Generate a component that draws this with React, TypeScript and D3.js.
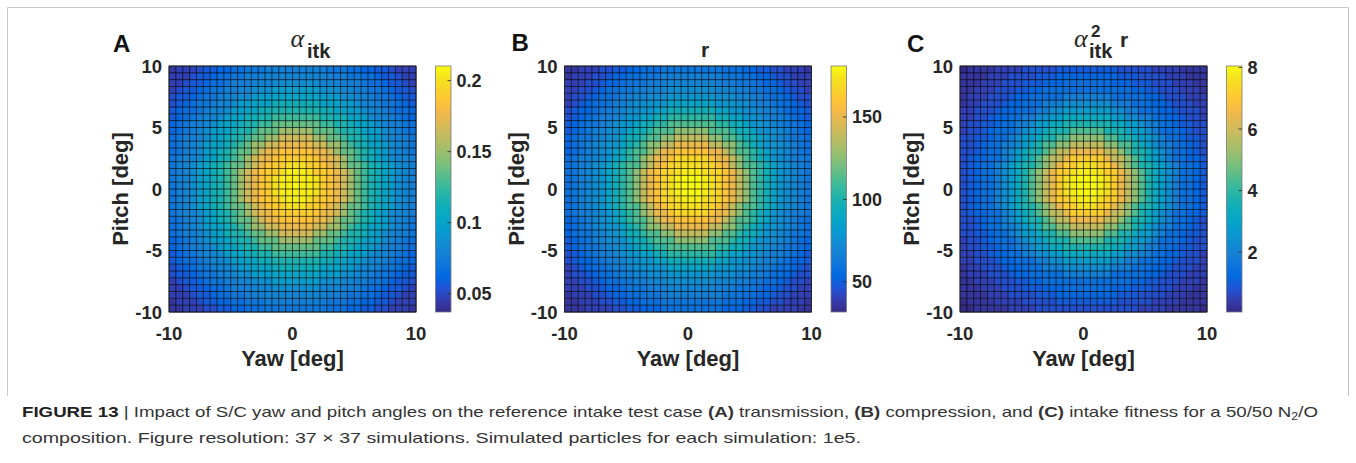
import React from "react";
import * as d3 from "d3";

// Simulated yaw / pitch angles (37 x 37 simulations), degrees
const yawDeg = [-10, -9.444, -8.889, -8.333, -7.778, -7.222, -6.667, -6.111, -5.556, -5, -4.444, -3.889, -3.333, -2.778, -2.222, -1.667, -1.111, -0.556, 0, 0.556, 1.111, 1.667, 2.222, 2.778, 3.333, 3.889, 4.444, 5, 5.556, 6.111, 6.667, 7.222, 7.778, 8.333, 8.889, 9.444, 10];
const pitchDeg = yawDeg.slice();

const axisTicks = [-10, -5, 0, 5, 10];

// Colour limits of each panel
const alphaRange = [0.0371, 0.2103];
const rRange = [31.8, 180.9];
const fitRange = [0.05, 8.05];

const alphaTicks = [0.05, 0.1, 0.15, 0.2];
const alphaTickLabels = ["0.05", "0.1", "0.15", "0.2"];
const rTicks = [50, 100, 150];
const rTickLabels = ["50", "100", "150"];
const fitTicks = [2, 4, 6, 8];
const fitTickLabels = ["2", "4", "6", "8"];

// Visible pcolor cells. One string per row, top row (pitch 9.44..10) first.
// Each character is a level 0..35 (base-36 digit) across the panel's colour limits.
const alphaRows = [
  "122234455667778888888887776655443222",
  "222344566778889999999998887766544322",
  "223445667888999aaaaaaa99988876654432",
  "234456778899aaacccccccaaa99887765443",
  "3445677899aacccdddddddcccaa998776544",
  "345677899accdddfffffffdddcca99877654",
  "45667899accddffgggggggffddcca9987665",
  "4567899acddffggiiiiiiiggffddca998765",
  "567889acddfggiikkkkkkkiiggfddca98876",
  "56789accdfggikkknnnnnkkkiggfdcca9876",
  "67889acdfggikknnqqqqqnnkkiggfdca9887",
  "6789acddfgiknnqqsssssqqnnkigfddca987",
  "6789acdfgikknqssuuuuussqnkkigfdca987",
  "7899acdfgiknqssuvvvvvussqnkigfdca998",
  "789acdfgikknqsuvvxxxvvusqnkkigfdca98",
  "789acdfgiknqsuvvxyyyxvvusqnkigfdca98",
  "789acdfgiknqsuvxyyyyyxvusqnkigfdca98",
  "789acdfgiknqsuvxyyzyyxvusqnkigfdca98",
  "789acdfgiknqsuvxyyyyyxvusqnkigfdca98",
  "789acdfgiknqsuvvxyyyxvvusqnkigfdca98",
  "789acdfgikknqsuvvxxxvvusqnkkigfdca98",
  "7899acdfgiknqssuvvvvvussqnkigfdca998",
  "6789acdfgikknqssuuuuussqnkkigfdca987",
  "6789acddfgiknnqqsssssqqnnkigfddca987",
  "67889acdfggikknnqqqqqnnkkiggfdca9887",
  "56789accdfggikkknnnnnkkkiggfdcca9876",
  "567889acddfggiikkkkkkkiiggfddca98876",
  "4567899acddffggiiiiiiiggffddca998765",
  "45667899accddffgggggggffddcca9987665",
  "345677899accdddfffffffdddcca99877654",
  "3445677899aacccdddddddcccaa998776544",
  "234456778899aaacccccccaaa99887765443",
  "223445667888999aaaaaaa99988876654432",
  "222344566778889999999998887766544322",
  "122234455667778888888887776655443222",
  "112223344556667777777776665544332221",
];

const rRows = [
  "112223344556667777777776665544332221",
  "122233455667778888888887776655433222",
  "222334556777888999999988877765543322",
  "223345667788999aaaaaaa99988776654332",
  "233456678899aaabbbbbbbaaa99887665433",
  "2345667889aabbbdddddddbbbaa988766543",
  "345567889aabbddfffffffddbbaa98876554",
  "34567889abbddffhhhhhhhffddbba9887654",
  "4567789abbdffhhjjjjjjjhhffdbba987765",
  "456789aabdffhjjjmmmmmjjjhffdbaa98765",
  "567789abdffhjjmmpppppmmjjhffdba98776",
  "56789abbdfhjmmppsssssppmmjhfdbba9876",
  "56789abdfhjjmpssuuuuusspmjjhfdba9876",
  "67889abdfhjmpssuwwwwwusspmjhfdba9887",
  "6789abdfhjjmpsuwwxxxwwuspmjjhfdba987",
  "6789abdfhjmpsuwwxyyyxwwuspmjhfdba987",
  "6789abdfhjmpsuwxyzzzyxwuspmjhfdba987",
  "6789abdfhjmpsuwxyzzzyxwuspmjhfdba987",
  "6789abdfhjmpsuwxyzzzyxwuspmjhfdba987",
  "6789abdfhjmpsuwwxyyyxwwuspmjhfdba987",
  "6789abdfhjjmpsuwwxxxwwuspmjjhfdba987",
  "67889abdfhjmpssuwwwwwusspmjhfdba9887",
  "56789abdfhjjmpssuuuuusspmjjhfdba9876",
  "56789abbdfhjmmppsssssppmmjhfdbba9876",
  "567789abdffhjjmmpppppmmjjhffdba98776",
  "456789aabdffhjjjmmmmmjjjhffdbaa98765",
  "4567789abbdffhhjjjjjjjhhffdbba987765",
  "34567889abbddffhhhhhhhffddbba9887654",
  "345567889aabbddfffffffddbbaa98876554",
  "2345667889aabbbdddddddbbbaa988766543",
  "233456678899aaabbbbbbbaaa99887665433",
  "223345667788999aaaaaaa99988776654332",
  "222334556777888999999988877765543322",
  "122233455667778888888887776655433222",
  "112223344556667777777776665544332221",
  "111222233445556666666665554433222211",
];

const fitRows = [
  "011112222333334444444443333322221111",
  "111122233334445555555554443333222111",
  "111222333444555666666655544433322211",
  "112223334455666666666666655443332221",
  "122233345566666888888866666554333222",
  "122333455666888aaaaaaa88866655433322",
  "2233345566688aacccccccaa886665543332",
  "22334556688aacceeeeeeeccaa8866554332",
  "2334456688acceegggggggeecca886654433",
  "233456668accegggjjjjjgggecca86665433",
  "33445668acceggjjmmmmmjjggecca8665443",
  "33456688acegjjmmpppppmmjjgeca8866543",
  "3345668aceggjmppsssssppmjggeca866543",
  "3455668acegjmppsvvvvvsppmjgeca866554",
  "345668aceggjmpsvvxxxvvspmjggeca86654",
  "345668acegjmpsvvxyyyxvvspmjgeca86654",
  "345668acegjmpsvxyzzzyxvspmjgeca86654",
  "345668acegjmpsvxyzzzyxvspmjgeca86654",
  "345668acegjmpsvxyzzzyxvspmjgeca86654",
  "345668acegjmpsvvxyyyxvvspmjgeca86654",
  "345668aceggjmpsvvxxxvvspmjggeca86654",
  "3455668acegjmppsvvvvvsppmjgeca866554",
  "3345668aceggjmppsssssppmjggeca866543",
  "33456688acegjjmmpppppmmjjgeca8866543",
  "33445668acceggjjmmmmmjjggecca8665443",
  "233456668accegggjjjjjgggecca86665433",
  "2334456688acceegggggggeecca886654433",
  "22334556688aacceeeeeeeccaa8866554332",
  "2233345566688aacccccccaa886665543332",
  "122333455666888aaaaaaa88866655433322",
  "122233345566666888888866666554333222",
  "112223334455666666666666655443332221",
  "111222333444555666666655544433322211",
  "111122233334445555555554443333222111",
  "011112222333334444444443333322221111",
  "001111122223333333333333332222111110",
];

// MATLAB parula colormap anchors
const parulaAnchors = [
  "#352a87", "#353dad", "#2053d4", "#0268e1", "#0d75dc", "#1481d6", "#108ed2", "#079ccf",
  "#06a7c6", "#0faeb9", "#25b5a9", "#42bb98", "#65be86", "#87bf77", "#a5be6b", "#c0bc60",
  "#d9ba56", "#f1b94a", "#ffc337", "#fad32a", "#f5e41d", "#f9fb0e",
];

const SANS = "'Liberation Sans', Arial, Helvetica, sans-serif";
const SERIF = "'Liberation Serif', 'Times New Roman', serif";
const INK = "#262626";

const PW = 247;
const PH = 246;
const TOP = 66;
const CB_OFF = 266.5;
const CB_W = 15.5;

function decodeRows(rows: string[], range: number[]): number[][] {
  // returns values indexed [i][j] with i = 0 at pitch -10 (bottom)
  const n = rows.length;
  const out: number[][] = [];
  for (let i = 0; i < n; i++) {
    const s = rows[n - 1 - i];
    const row: number[] = [];
    for (let j = 0; j < s.length; j++) {
      const code = parseInt(s[j], 36);
      row.push(range[0] + (code / 35) * (range[1] - range[0]));
    }
    out.push(row);
  }
  return out;
}

export default function App() {
  const parula = d3.piecewise(d3.interpolateRgb, parulaAnchors);

  const panels = [
    { key: "A", left: 169, rows: alphaRows, range: alphaRange, ticks: alphaTicks, labels: alphaTickLabels, letterX: 113, letterY: 52 },
    { key: "B", left: 564.5, rows: rRows, range: rRange, ticks: rTicks, labels: rTickLabels, letterX: 511.5, letterY: 51 },
    { key: "C", left: 960, rows: fitRows, range: fitRange, ticks: fitTicks, labels: fitTickLabels, letterX: 907, letterY: 52 },
  ];

  const gradStops = parulaAnchors.map((c, k) => (
    <stop key={k} offset={`${(k / (parulaAnchors.length - 1)) * 100}%`} stopColor={c} />
  ));

  return (
    <div style={{ position: "absolute", left: 0, top: 0 }}>
      <svg width={1356} height={463} viewBox="0 0 1356 463" style={{ display: "block", background: "#fff" }}>
        <defs>
          <linearGradient id="parulaGrad" x1="0" y1="1" x2="0" y2="0">
            {gradStops}
          </linearGradient>
        </defs>
        <rect x={0} y={0} width={1356} height={463} fill="#fff" />
        <path d="M7.5,396 V7.5 H1348.5 V396" fill="none" stroke="#c9c9c9" strokeWidth={1} />

        {panels.map((p) => {
          const xs = d3.scaleLinear().domain([-10, 10]).range([p.left, p.left + PW]);
          const ys = d3.scaleLinear().domain([-10, 10]).range([TOP + PH, TOP]);
          const color = d3.scaleSequential(parula).domain(p.range as [number, number]);
          const cb = d3.scaleLinear().domain(p.range).range([TOP + PH, TOP]);
          const vals = decodeRows(p.rows, p.range);
          const cbx = p.left + CB_OFF;
          const cells: any[] = [];
          vals.forEach((row, i) => {
            row.forEach((v, j) => {
              const x0 = xs(yawDeg[j]);
              const x1 = xs(yawDeg[j + 1]);
              const y0 = ys(pitchDeg[i + 1]);
              const y1 = ys(pitchDeg[i]);
              cells.push(
                <rect key={`${i}-${j}`} x={x0} y={y0} width={x1 - x0 + 0.3} height={y1 - y0 + 0.3} fill={color(v)} />
              );
            });
          });
          const gridV = yawDeg.map((d, k) => (
            <line key={`v${k}`} x1={xs(d)} x2={xs(d)} y1={TOP} y2={TOP + PH} stroke="#000" strokeOpacity={0.82} strokeWidth={0.8} />
          ));
          const gridH = pitchDeg.map((d, k) => (
            <line key={`h${k}`} x1={p.left} x2={p.left + PW} y1={ys(d)} y2={ys(d)} stroke="#000" strokeOpacity={0.82} strokeWidth={0.8} />
          ));
          const cx = p.left + PW / 2;
          return (
            <g key={p.key}>
              <text x={p.letterX} y={p.letterY} fontFamily={SANS} fontWeight="bold" fontSize={24} fill="#111">{p.key}</text>
              {cells}
              {gridV}
              {gridH}
              <rect x={p.left} y={TOP} width={PW} height={PH} fill="none" stroke={INK} strokeWidth={0.8} />
              {axisTicks.map((t) => (
                <text key={`yt${t}`} x={p.left - 7} y={ys(t) + 6.7} textAnchor="end" fontFamily={SANS} fontWeight="bold" fontSize={18.5} fill={INK}>{t}</text>
              ))}
              {[-10, 0, 10].map((t) => (
                <text key={`xt${t}`} x={xs(t)} y={340} textAnchor="middle" fontFamily={SANS} fontWeight="bold" fontSize={18.5} fill={INK}>{t}</text>
              ))}
              <text x={cx} y={366} textAnchor="middle" fontFamily={SANS} fontWeight="bold" fontSize={22} fill={INK}>Yaw [deg]</text>
              <text transform={`translate(${p.left - 41},${TOP + PH / 2}) rotate(-90)`} textAnchor="middle" fontFamily={SANS} fontWeight="bold" fontSize={22} fill={INK}>Pitch [deg]</text>
              {/* colorbar */}
              <rect x={cbx} y={TOP} width={CB_W} height={PH} fill="url(#parulaGrad)" stroke="#7a7a7a" strokeWidth={0.8} />
              {p.ticks.map((t, k) => (
                <g key={`cb${k}`}>
                  <line x1={cbx + CB_W - 3.5} x2={cbx + CB_W} y1={cb(t)} y2={cb(t)} stroke={INK} strokeWidth={0.8} />
                  <text x={cbx + CB_W + 5.5} y={cb(t) + 6.5} fontFamily={SANS} fontWeight="bold" fontSize={18} fill={INK}>{p.labels[k]}</text>
                </g>
              ))}
            </g>
          );
        })}

        {/* titles */}
        <text x={290.5} y={47} fontFamily={SERIF} fontStyle="italic" fontSize={26} fill={INK}>α</text>
        <text x={307} y={58} fontFamily={SANS} fontWeight="bold" fontSize={20} fill={INK}>itk</text>

        <text x={705} y={57} textAnchor="middle" fontFamily={SANS} fontWeight="bold" fontSize={21} fill={INK}>r</text>

        <text x={1074} y={47} fontFamily={SERIF} fontStyle="italic" fontSize={26} fill={INK}>α</text>
        <text x={1091} y={37} fontFamily={SANS} fontWeight="bold" fontSize={17} fill={INK}>2</text>
        <text x={1089} y={58} fontFamily={SANS} fontWeight="bold" fontSize={20} fill={INK}>itk</text>
        <text x={1120} y={47} fontFamily={SANS} fontWeight="bold" fontSize={21} fill={INK}>r</text>

        {/* caption */}
        <text x={22} y={417} fontFamily="'Liberation Sans Narrow', 'Liberation Sans', Arial, sans-serif" fontSize={15} fill="#333" textLength={1296} lengthAdjust="spacingAndGlyphs">
          <tspan fontWeight="bold" fill="#222">FIGURE 13</tspan>
          <tspan> | Impact of S/C yaw and pitch angles on the reference intake test case </tspan>
          <tspan fontWeight="bold">(A)</tspan>
          <tspan> transmission, </tspan>
          <tspan fontWeight="bold">(B)</tspan>
          <tspan> compression, and </tspan>
          <tspan fontWeight="bold">(C)</tspan>
          <tspan> intake fitness for a 50/50 N</tspan>
          <tspan fontSize={10} dy={3}>2</tspan>
          <tspan dy={-3}>/O</tspan>
        </text>
        <text x={22} y={443} fontFamily="'Liberation Sans Narrow', 'Liberation Sans', Arial, sans-serif" fontSize={15} fill="#333" textLength={839} lengthAdjust="spacingAndGlyphs">
          composition. Figure resolution: 37 × 37 simulations. Simulated particles for each simulation: 1e5.
        </text>
      </svg>
    </div>
  );
}
